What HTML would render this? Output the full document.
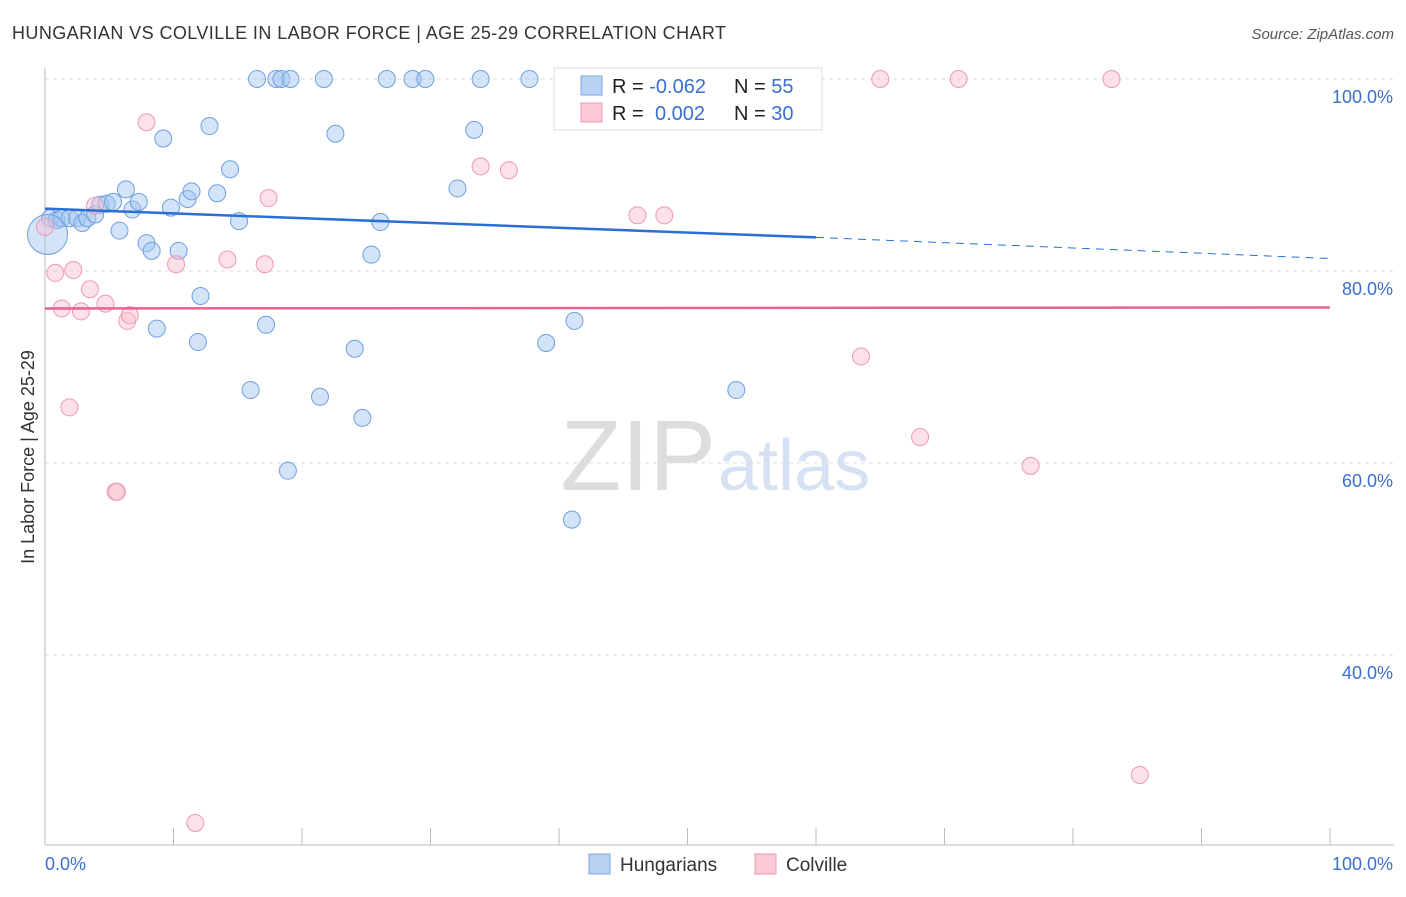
<!DOCTYPE html>
<html><head><meta charset="utf-8"><style>
body{margin:0;background:#fff;font-family:"Liberation Sans",sans-serif;}
svg text{font-family:"Liberation Sans",sans-serif;}
</style></head><body>
<svg id="chart" width="1406" height="892">
<text x="12" y="39" font-size="18" fill="#333" textLength="714">HUNGARIAN VS COLVILLE IN LABOR FORCE | AGE 25-29 CORRELATION CHART</text>
<text x="1394" y="39" font-size="15" fill="#555" font-style="italic" text-anchor="end">Source: ZipAtlas.com</text>
<text x="716" y="490" font-size="100" fill="#ddd" text-anchor="end" font-family="Liberation Serif">ZIP</text>
<text x="718" y="490" font-size="72" fill="#d6e2f3">atlas</text>
<g id="grid"></g><g id="axes"></g><g id="pts"></g><g id="trend"></g>
<text transform="translate(34,457) rotate(-90)" font-size="18" fill="#333" text-anchor="middle">In Labor Force | Age 25-29</text>
<g>
<rect x="554" y="68" width="268" height="62" fill="#fff" stroke="#ddd"/>
<rect x="581" y="76" width="21" height="19" fill="#b9d1f3" stroke="#7ea6e0"/>
<rect x="581" y="103" width="21" height="19" fill="#fbc8d6" stroke="#ec9ab2"/>
<text x="612" y="93" font-size="20" fill="#222">R = <tspan fill="#3a6fd0">-0.062</tspan></text>
<text x="734" y="93" font-size="20" fill="#222">N = <tspan fill="#3a6fd0">55</tspan></text>
<text x="612" y="120" font-size="20" fill="#222">R =  <tspan fill="#3a6fd0" x="655">0.002</tspan></text>
<text x="734" y="120" font-size="20" fill="#222">N = <tspan fill="#3a6fd0">30</tspan></text>
</g>
<g>
<rect x="589" y="854" width="21" height="20" fill="#b9d1f3" stroke="#7ea6e0"/>
<text x="620" y="871" font-size="19" fill="#333">Hungarians</text>
<rect x="755" y="854" width="21" height="20" fill="#fbc8d6" stroke="#ec9ab2"/>
<text x="786" y="871" font-size="19" fill="#333">Colville</text>
</g>
</svg>
<script>
const yTicks=[100,80,60,40];
const yTickLabels=["100.0%","80.0%","60.0%","40.0%"];
const xTickLabels=["0.0%","100.0%"];
const blueX=[0.4,0.9,1.3,1.9,2.5,2.9,3.3,3.9,4.3,4.8,5.3,5.8,6.3,6.8,7.3,7.9,8.3,8.7,9.2,9.8,10.4,11.1,11.4,11.9,12.1,12.8,13.4,14.4,15.1,16,16.5,18,18.4,19.1,17.2,18.9,21.4,21.7,22.6,24.1,24.7,25.4,26.1,26.6,28.6,29.6,32.1,33.4,33.9,37.7,39,41,41.2,51,53.8,0.2];
const blueY=[85.5,85.3,85.5,85.5,85.5,85,85.5,85.9,86.9,87,87.2,84.2,88.5,86.4,87.2,82.9,82.1,74,93.8,86.6,82.1,87.5,88.3,72.6,77.4,95.1,88.1,90.6,85.2,67.6,100,100,100,100,74.4,59.2,66.9,100,94.3,71.9,64.7,81.7,85.1,100,100,100,88.6,94.7,100,100,72.5,54.1,74.8,99.7,67.6,83.8];
const pinkX=[7.9,0.8,2.2,1.3,2.8,3.5,4.7,6.4,6.6,1.9,5.5,5.6,3.9,10.2,14.2,17.1,17.4,11.7,33.9,36.1,46.1,48.2,63.5,65,68.1,71.1,76.7,83,85.2,0];
const pinkY=[95.5,79.8,80.1,76.1,75.8,78.1,76.6,74.8,75.4,65.8,57,57,86.8,80.7,81.2,80.7,87.6,22.5,90.9,90.5,85.8,85.8,71.1,100,62.7,100,59.7,100,27.5,84.6];
const blueTrend=[[0,86.5],[60,83.5],[100,81.3]];
const pinkTrend=[[0,76.1],[100,76.2]];
const NS="http://www.w3.org/2000/svg";
const X=v=>45+v*12.85, Y=v=>79+(100-v)*9.6;
function mk(t,a,p){const e=document.createElementNS(NS,t);for(const k in a)e.setAttribute(k,a[k]);document.getElementById(p).appendChild(e);return e;}
yTicks.forEach((t,i)=>{
 const g=mk('line',{x1:45,x2:1394,y1:Y(t),y2:Y(t),stroke:'#ddd','stroke-dasharray':'4,4'},'grid');
 
 
 const l=mk('text',{x:1393,y:Y(t)+24,'font-size':18,fill:'#3a6fd0','text-anchor':'end'},'axes');l.textContent=yTickLabels[i];
 
 
});
const ax=mk('line',{x1:45,x2:45,y1:68,y2:845,stroke:'#bbb'},'axes');


const bx=mk('line',{x1:45,x2:1394,y1:845,y2:845,stroke:'#bbb'},'axes');


for(let i=0;i<=10;i++){const t=mk('line',{x1:X(i*10),x2:X(i*10),y1:828,y2:845,stroke:'#bbb'},'axes');
 
 }
[[0,'start',45],[100,'end',1393]].forEach((d,i)=>{const l=mk('text',{x:d[2],y:870,'font-size':18,fill:'#3a6fd0','text-anchor':d[1]},'axes');l.textContent=xTickLabels[i];
 
 });
blueX.forEach((x,i)=>{const c=mk('circle',{cx:X(x),cy:Y(blueY[i]),r:i==blueX.length-1?20:8.5,fill:'rgba(160,195,240,0.45)',stroke:'#6f9fe0','stroke-width':1},'pts');
 
 });
pinkX.forEach((x,i)=>{const c=mk('circle',{cx:X(x),cy:Y(pinkY[i]),r:8.5,fill:'rgba(248,190,205,0.45)',stroke:'#ec9ab2','stroke-width':1},'pts');
 
 });
const b1=mk('line',{x1:X(blueTrend[0][0]),y1:Y(blueTrend[0][1]),x2:X(blueTrend[1][0]),y2:Y(blueTrend[1][1]),stroke:'#2a6fd6','stroke-width':2.5},'trend');


const b2=mk('line',{x1:X(blueTrend[1][0]),y1:Y(blueTrend[1][1]),x2:X(blueTrend[2][0]),y2:Y(blueTrend[2][1]),stroke:'#2a6fd6','stroke-width':1,'stroke-dasharray':'8,6'},'trend');


const p1=mk('line',{x1:X(pinkTrend[0][0]),y1:Y(pinkTrend[0][1]),x2:X(pinkTrend[1][0]),y2:Y(pinkTrend[1][1]),stroke:'#e8628e','stroke-width':2.5},'trend');


</script>
</body></html>
